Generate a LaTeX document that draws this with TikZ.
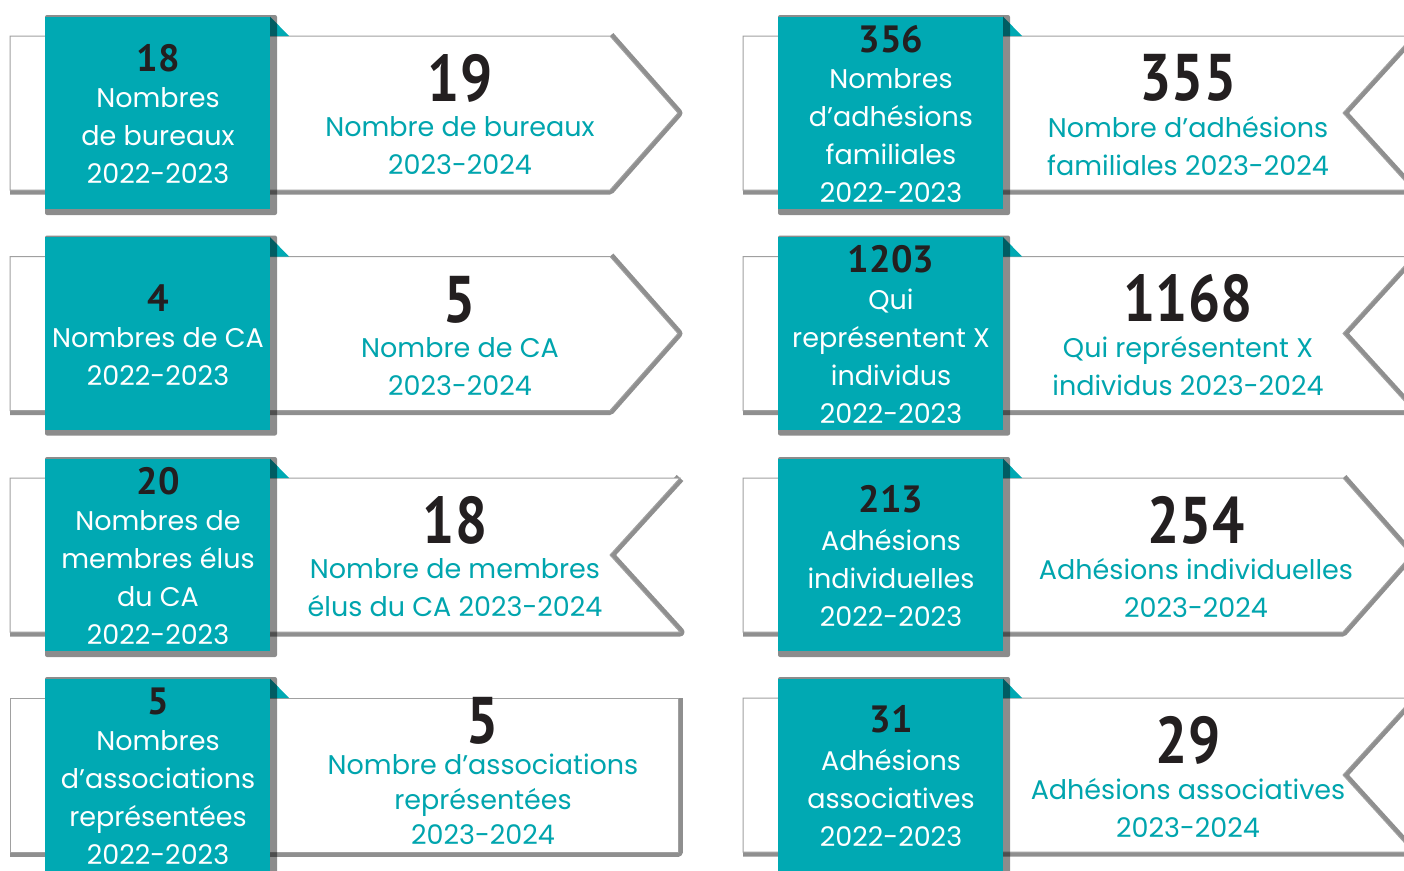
\documentclass[tikz,border=0pt]{standalone}
\usepackage{fontspec}
\setmainfont{Poppins}
\newfontfamily\numfont{PT Sans}
\newfontfamily\bignumfont{PT Sans}[FakeStretch=0.86]
\usepackage{tikz}
\usetikzlibrary{positioning}

\definecolor{tealbg}{HTML}{00A9B3}
\definecolor{tealtext}{HTML}{00A5AE}
\definecolor{numblack}{HTML}{231F20}
\definecolor{shadegray}{HTML}{8F8F8F}
\definecolor{edgegray}{HTML}{A0A0A0}

\tikzset{
  banshade/.style={draw=shadegray, line width=9pt, line join=round},
  banner/.style={fill=white, draw=edgegray, line width=1pt},
  boxshadow/.style={fill=black, opacity=0.45, rounded corners=2pt},
  tealbox/.style={fill=tealbg},
  foldtri/.style={fill=tealbg},
  smallnum/.style={font=\numfont\bfseries\fontsize{38}{40}\selectfont, text=numblack, inner sep=0pt},
  bignum/.style={font=\bignumfont\bfseries\fontsize{66}{70}\selectfont, text=numblack, inner sep=0pt},
  boxtext/.style={font=\fontsize{27}{38}\selectfont, text=white, align=center, inner sep=0pt},
  bantext/.style={font=\fontsize{27}{38}\selectfont, text=tealtext, align=center, inner sep=0pt}
}

\begin{document}
\begin{tikzpicture}[x=1pt,y=-1pt]
\useasboundingbox (0,0) rectangle (1404,870);
\clip (0,0) rectangle (1404,870);

% left column
\begin{scope}[shift={(0,0)}]
\draw[banshade] (610,36) -- (678,113) -- (610,190) -- (10,190);
\draw[banner] (10,36) -- (610,36) -- (678,113) -- (610,190) -- (10,190) -- cycle;
\fill[foldtri] (270,16.5) -- (289,36) -- (270,36) -- cycle;
\fill[boxshadow] (45,15) rectangle (277,215);
\fill[tealbox] (45,16.5) rectangle (270,209);
\node[boxtext] (bureauxold) at (158,136) {Nombres\\de bureaux\\2022-2023};
\node[smallnum, above=16pt of bureauxold] (bureauxoldnum) {18};
\node[bantext] (bureauxnew) at (460,146) {Nombre de bureaux\\2023-2024};
\node[bignum, above=14pt of bureauxnew] (bureauxnewnum) {19};
\end{scope}

\begin{scope}[shift={(0,220.5)}]
\draw[banshade] (610,36) -- (678,113) -- (610,190) -- (10,190);
\draw[banner] (10,36) -- (610,36) -- (678,113) -- (610,190) -- (10,190) -- cycle;
\fill[foldtri] (270,16.5) -- (289,36) -- (270,36) -- cycle;
\fill[boxshadow] (45,15) rectangle (277,215);
\fill[tealbox] (45,16.5) rectangle (270,209);
\node[boxtext] (caold) at (158,136) {Nombres de CA\\2022-2023};
\node[smallnum, above=16pt of caold] (caoldnum) {4};
\node[bantext] (canew) at (460,146) {Nombre de CA\\2023-2024};
\node[bignum, above=14pt of canew] (canewnum) {5};
\end{scope}

\begin{scope}[shift={(0,442)}]
\draw[banshade] (680,36) -- (610,113) -- (680,190) -- (10,190);
\draw[banner] (10,36) -- (680,36) -- (610,113) -- (680,190) -- (10,190) -- cycle;
\fill[foldtri] (270,16.5) -- (289,36) -- (270,36) -- cycle;
\fill[boxshadow] (45,15) rectangle (277,215);
\fill[tealbox] (45,16.5) rectangle (270,209);
\node[boxtext] (elusold) at (158,136) {Nombres de\\membres élus\\du CA\\2022-2023};
\node[smallnum, above=16pt of elusold] (elusoldnum) {20};
\node[bantext] (elusnew) at (455,146) {Nombre de membres\\élus du CA 2023-2024};
\node[bignum, above=14pt of elusnew] (elusnewnum) {18};
\end{scope}

\begin{scope}[shift={(0,662)}]
\draw[banshade] (678,36) -- (678,190) -- (10,190);
\draw[banner] (10,36) rectangle (678,190);
\fill[foldtri] (270,16.5) -- (289,36) -- (270,36) -- cycle;
\fill[boxshadow] (45,15) rectangle (277,215);
\fill[tealbox] (45,16.5) rectangle (270,209);
\node[boxtext] (assoold) at (158,136) {Nombres\\d’associations\\représentées\\2022-2023};
\node[smallnum, above=16pt of assoold] (assooldnum) {5};
\node[bantext, font=\fontsize{27}{35}\selectfont] (assonew) at (483,137) {Nombre d’associations\\représentées\\2023-2024};
\node[bignum, above=9pt of assonew] (assonewnum) {5};
\end{scope}

% right column
\begin{scope}[shift={(733,0)}]
\draw[banshade] (680,36) -- (610,113) -- (680,190) -- (10,190);
\draw[banner] (10,36) -- (680,36) -- (610,113) -- (680,190) -- (10,190) -- cycle;
\fill[foldtri] (270,16.5) -- (289,36) -- (270,36) -- cycle;
\fill[boxshadow] (45,15) rectangle (277,215);
\fill[tealbox] (45,16.5) rectangle (270,209);
\node[boxtext] (famold) at (158,136) {Nombres\\d’adhésions\\familiales\\2022-2023};
\node[smallnum, above=16pt of famold] (famoldnum) {356};
\node[bantext] (famnew) at (455,146) {Nombre d’adhésions\\familiales 2023-2024};
\node[bignum, above=14pt of famnew] (famnewnum) {355};
\end{scope}

\begin{scope}[shift={(733,220.5)}]
\draw[banshade] (680,36) -- (610,113) -- (680,190) -- (10,190);
\draw[banner] (10,36) -- (680,36) -- (610,113) -- (680,190) -- (10,190) -- cycle;
\fill[foldtri] (270,16.5) -- (289,36) -- (270,36) -- cycle;
\fill[boxshadow] (45,15) rectangle (277,215);
\fill[tealbox] (45,16.5) rectangle (270,209);
\node[boxtext] (indold) at (158,136) {Qui\\représentent X\\individus\\2022-2023};
\node[smallnum, above=16pt of indold] (indoldnum) {1203};
\node[bantext] (indnew) at (455,146) {Qui représentent X\\individus 2023-2024};
\node[bignum, above=14pt of indnew] (indnewnum) {1168};
\end{scope}

\begin{scope}[shift={(733,442)}]
\draw[banshade] (610,36) -- (678,113) -- (610,190) -- (10,190);
\draw[banner] (10,36) -- (610,36) -- (678,113) -- (610,190) -- (10,190) -- cycle;
\fill[foldtri] (270,16.5) -- (289,36) -- (270,36) -- cycle;
\fill[boxshadow] (45,15) rectangle (277,215);
\fill[tealbox] (45,16.5) rectangle (270,209);
\node[boxtext] (indivold) at (158,136) {Adhésions\\individuelles\\2022-2023};
\node[smallnum, above=16pt of indivold] (indivoldnum) {213};
\node[bantext] (indivnew) at (463,146) {Adhésions individuelles\\2023-2024};
\node[bignum, above=14pt of indivnew] (indivnewnum) {254};
\end{scope}

\begin{scope}[shift={(733,662)}]
\draw[banshade] (680,36) -- (610,113) -- (680,190) -- (10,190);
\draw[banner] (10,36) -- (680,36) -- (610,113) -- (680,190) -- (10,190) -- cycle;
\fill[foldtri] (270,16.5) -- (289,36) -- (270,36) -- cycle;
\fill[boxshadow] (45,15) rectangle (277,215);
\fill[tealbox] (45,16.5) rectangle (270,209);
\node[boxtext] (assocold) at (158,136) {Adhésions\\associatives\\2022-2023};
\node[smallnum, above=16pt of assocold] (assocoldnum) {31};
\node[bantext] (assocnew) at (455,146) {Adhésions associatives\\2023-2024};
\node[bignum, above=14pt of assocnew] (assocnewnum) {29};
\end{scope}
\end{tikzpicture}
\end{document}
